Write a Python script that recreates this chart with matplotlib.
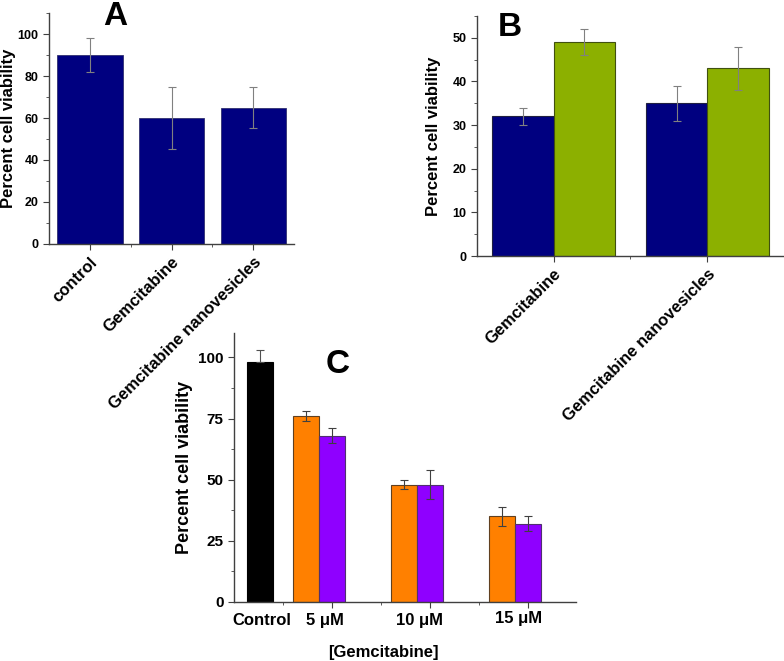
import numpy as np
import matplotlib
matplotlib.use("Agg")
import matplotlib.pyplot as plt
from matplotlib.ticker import MultipleLocator, FixedLocator

plt.rcParams['font.family'] = ['Liberation Sans', 'DejaVu Sans']
plt.rcParams['font.weight'] = 'bold'

# panel A
a_labels = ["control", "Gemcitabine", "Gemcitabine nanovesicles"]
a_vals = [90, 60, 65]
a_err = [8, 15, 10]

# panel B
b_labels = ["Gemcitabine", "Gemcitabine nanovesicles"]
b_blue = [32, 35]
b_blue_err = [2, 4]
b_green = [49, 43]
b_green_err = [3, 5]

# panel C
c_control = 98
c_control_err = 5
c_doses = ["5 \u03bcM", "10 \u03bcM", "15 \u03bcM"]
c_orange = [76, 48, 35]
c_orange_err = [2, 2, 4]
c_purple = [68, 48, 32]
c_purple_err = [3, 6, 3]

navy = "#000080"
green = "#8CB000"
orange = "#FF8000"
purple = "#8F00FF"
ecol = "#808080"
axcol = "#404040"


def style(ax, fs):
    ax.spines['top'].set_visible(False)
    ax.spines['right'].set_visible(False)
    for s in ['left', 'bottom']:
        ax.spines[s].set_color(axcol)
        ax.spines[s].set_linewidth(1.0)
    ax.tick_params(which='both', direction='out', color=axcol)
    ax.tick_params(axis='y', labelsize=fs)
    ax.tick_params(which='major', length=4)
    ax.tick_params(which='minor', length=2)
    for t in ax.get_yticklabels():
        t.set_fontweight('bold')


fig = plt.figure(figsize=(7.84, 6.61), dpi=100)

# ---- C (drawn first, transparent, so the rotated labels above stay visible)
axC = fig.add_axes([0.2985, 0.0893, 0.4362, 0.4069])
axC.patch.set_alpha(0)
wc = 0.265
xg = np.arange(1, len(c_doses) + 1) - 0.135
axC.bar([0.265], [c_control], width=wc, color="black", edgecolor="black", linewidth=0.8)
axC.errorbar([0.265], [c_control], yerr=[[0], [c_control_err]], fmt='none', ecolor="#505050", elinewidth=0.8, capsize=3, capthick=0.8)
axC.bar(xg - wc / 2, c_orange, width=wc, color=orange, edgecolor="#604020", linewidth=0.8)
axC.bar(xg + wc / 2, c_purple, width=wc, color=purple, edgecolor="#503070", linewidth=0.8)
axC.errorbar(xg - wc / 2, c_orange, yerr=c_orange_err, fmt='none', ecolor="#404040", elinewidth=0.8, capsize=3, capthick=0.8)
axC.errorbar(xg + wc / 2, c_purple, yerr=c_purple_err, fmt='none', ecolor="#404040", elinewidth=0.8, capsize=3, capthick=0.8)
axC.set_xlim(0, 3.49)
axC.set_ylim(0, 110)
axC.yaxis.set_major_locator(MultipleLocator(25))
axC.yaxis.set_minor_locator(MultipleLocator(12.5))
axC.set_xticks([1, 2, 3])
axC.set_xticklabels([])
axC.xaxis.set_minor_locator(FixedLocator([0.5, 1.5, 2.5]))
style(axC, 11)
axC.set_ylabel("Percent cell viability", fontsize=13, fontweight='bold', labelpad=4)
lab_x = [0.286, 0.93, 1.89, 2.9]
lab_y = [-0.04, -0.04, -0.04, -0.032]
for x, y, s in zip(lab_x, lab_y, ["Control"] + c_doses):
    axC.text(x, y, s, transform=axC.get_xaxis_transform(), ha='center', va='top',
             fontsize=12, fontweight='bold')
fig.text(383 / 784, 1 - 652 / 661, "[Gemcitabine]", fontsize=12, fontweight='bold', ha='center', va='center')
fig.text(338 / 784, 1 - 373 / 661, "C", fontsize=24, fontweight='bold', ha='center', va='baseline')

# ---- A
axA = fig.add_axes([0.0625, 0.6309, 0.3125, 0.3494])
axA.patch.set_alpha(0)
xa = np.arange(len(a_vals))
axA.bar(xa, a_vals, width=0.8, color=navy, edgecolor="#303070", linewidth=0.6)
axA.errorbar(xa, a_vals, yerr=a_err, fmt='none', ecolor=ecol, elinewidth=0.8, capsize=3, capthick=0.8)
axA.set_xlim(-0.5, 2.5)
axA.set_ylim(0, 110)
axA.yaxis.set_major_locator(MultipleLocator(20))
axA.yaxis.set_minor_locator(MultipleLocator(10))
axA.set_xticks(xa)
axA.xaxis.set_minor_locator(FixedLocator([0.5, 1.5]))
style(axA, 9)
axA.set_xticklabels(a_labels, rotation=45, ha='right', rotation_mode='anchor', fontsize=12, fontweight='bold')
axA.set_ylabel("Percent cell viability", fontsize=12, fontweight='bold')
axA.yaxis.set_label_coords(-0.135, 0.5)
fig.text(115 / 784, 1 - 25 / 661, "A", fontsize=24, fontweight='bold', ha='center', va='baseline')

# ---- B
axB = fig.add_axes([0.6084, 0.6127, 0.3916, 0.3631])
axB.patch.set_alpha(0)
xb = np.arange(len(b_labels))
w = 0.4
axB.bar(xb - w / 2, b_blue, width=w, color=navy, edgecolor="#202040", linewidth=0.8)
axB.bar(xb + w / 2, b_green, width=w, color=green, edgecolor="#405010", linewidth=0.8)
axB.errorbar(xb - w / 2, b_blue, yerr=b_blue_err, fmt='none', ecolor=ecol, elinewidth=0.8, capsize=3, capthick=0.8)
axB.errorbar(xb + w / 2, b_green, yerr=b_green_err, fmt='none', ecolor=ecol, elinewidth=0.8, capsize=3, capthick=0.8)
axB.set_xlim(-0.5, 1.5)
axB.set_ylim(0, 55)
axB.yaxis.set_major_locator(MultipleLocator(10))
axB.yaxis.set_minor_locator(MultipleLocator(5))
axB.set_xticks(xb)
axB.xaxis.set_minor_locator(FixedLocator([0.5]))
style(axB, 9)
axB.set_xticklabels(b_labels, rotation=45, ha='right', rotation_mode='anchor', fontsize=12, fontweight='bold')
axB.set_ylabel("Percent cell viability", fontsize=12, fontweight='bold', labelpad=8)
fig.text(510 / 784, 1 - 36 / 661, "B", fontsize=24, fontweight='bold', ha='center', va='baseline')

fig.savefig("out.png", dpi=100)
